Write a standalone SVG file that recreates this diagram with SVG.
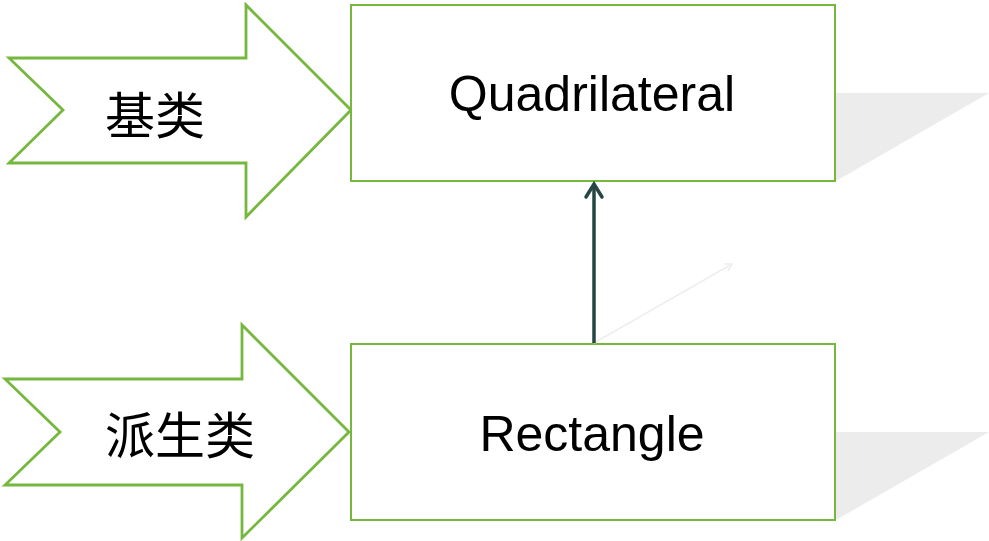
<svg xmlns="http://www.w3.org/2000/svg" width="989" height="541" viewBox="0 0 989 541">
<style>
.arrow{fill:#fff;stroke:#76b73e;stroke-width:2.8;stroke-linejoin:miter}
.box{fill:#fff;stroke:#76b73e;stroke-width:2}
.shadow{fill:#ececec}
.cjk{font-family:"Noto Sans CJK SC","Noto Sans CJK JP",sans-serif;font-size:50px;fill:#000;text-anchor:middle}
.lbl{font-family:"Liberation Sans",Arial,sans-serif;font-size:50px;fill:#000;text-anchor:middle}
</style>
<defs>
<marker id="head" markerWidth="10" markerHeight="10" refX="8" refY="5" orient="auto" markerUnits="userSpaceOnUse" viewBox="0 0 10 10">
<path d="M1,1 L8,5 L1,9" fill="none" stroke="#eeeeee" stroke-width="1.5"/>
</marker>
</defs>
<g id="shadows">
<polygon class="shadow" points="836,93 989,93 836,181"/>
<polygon class="shadow" points="836,432 989,432 836,520"/>
</g>
<g id="base-arrow">
<polygon class="arrow" points="9,58 246,58 246,5 351,110 246,217 246,163 9,163 63,110"/>
<text class="cjk" x="155" y="134">基类</text>
</g>
<g id="derived-arrow">
<polygon class="arrow" points="5,379 242,379 242,325 349,432 242,538 242,485 5,485 60,432"/>
<text class="cjk" x="180" y="454">派生类</text>
</g>
<g id="quadrilateral">
<rect class="box" x="351" y="5" width="484" height="176"/>
<text class="lbl" x="592" y="111">Quadrilateral</text>
</g>
<g id="rectangle">
<rect class="box" x="351" y="344" width="484" height="176"/>
<text class="lbl" x="592" y="451">Rectangle</text>
</g>
<g id="connectors">
<line x1="594" y1="343" x2="732" y2="264" stroke="#eeeeee" stroke-width="1.5" marker-end="url(#head)"/>
<line x1="594" y1="343" x2="594" y2="185" stroke="#264545" stroke-width="3.5"/>
<path d="M586,197 L594,184 L602,197" fill="none" stroke="#264545" stroke-width="3.5" stroke-linecap="round" stroke-linejoin="miter"/>
</g>
</svg>
